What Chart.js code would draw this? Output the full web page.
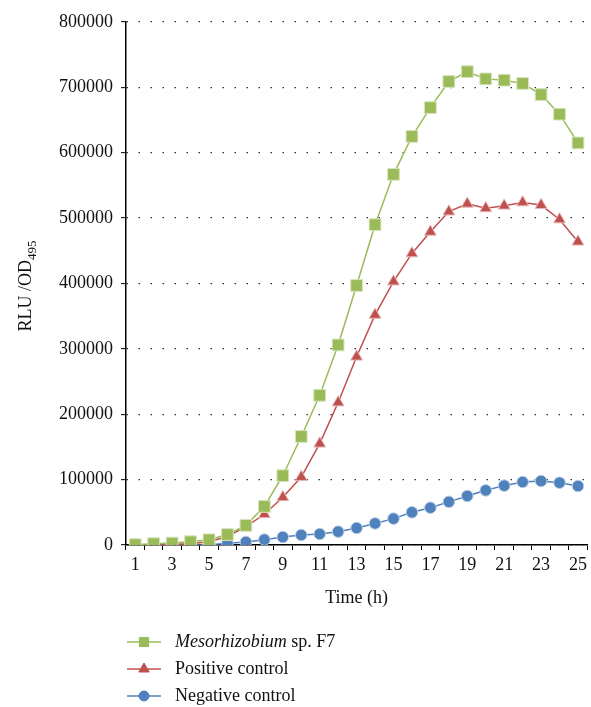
<!DOCTYPE html>
<html>
<head>
<meta charset="utf-8">
<title>RLU/OD495 over time</title>
<script src="https://cdn.jsdelivr.net/npm/chart.js@4/dist/chart.umd.min.js"></script>
<style>
  html, body { margin: 0; padding: 0; background: #fff; }
  #wrap { width: 591px; height: 707px; }
</style>
</head>
<body>
<div id="wrap"><canvas id="chart" width="591" height="707"></canvas></div>
<script>
// time points (h)
var hours = ['1','2','3','4','5','6','7','8','9','10','11','12','13','14','15','16','17','18','19','20','21','22','23','24','25'];

// RLU / OD495 per series
var mesorhizobium = [500, 2000, 3000, 5000, 8000, 16000, 30000, 59000, 106000, 166000, 229000, 306000, 397000,
                     490000, 567000, 625000, 669000, 709000, 724000, 713000, 711000, 706000, 689000, 659000, 615000];
var positiveCtrl = [0, 500, 1000, 2000, 5000, 13000, 28000, 47000, 73000, 104000, 155000, 218000, 288000,
                    352000, 403000, 446000, 479000, 510000, 522000, 515000, 519000, 524000, 520000, 498000, 464000];
var negativeCtrl = [0, 0, 0, 0, 500, 2500, 4600, 8200, 12200, 15300, 16800, 20400, 26000,
                    33000, 40300, 50000, 57000, 66000, 75000, 83600, 90800, 96400, 97900, 95300, 90200];

var yTicks = [0, 100000, 200000, 300000, 400000, 500000, 600000, 700000, 800000];

var FONT = '"Liberation Serif", "Times New Roman", serif';

var GREEN = '#9bbb59', RED = '#c0504d', BLUE = '#4f81bd';

// titles + legend are drawn here, because of the italic name and the subscript
var extraText = {
  id: 'extraText',
  afterDraw: function(chart) {
    var ctx = chart.ctx;
    var area = chart.chartArea;
    ctx.save();
    ctx.fillStyle = '#111';
    ctx.textBaseline = 'middle';

    // x title
    ctx.font = '18px ' + FONT;
    ctx.textAlign = 'center';
    ctx.fillText('Time (h)', (area.left + area.right) / 2, 598);

    // y title, rotated, with subscript
    ctx.save();
    ctx.translate(28, 286);
    ctx.rotate(-Math.PI / 2);
    ctx.textAlign = 'left';
    ctx.font = '18px ' + FONT;
    var main = 'RLU /OD';
    var wMain = ctx.measureText(main).width;
    ctx.font = '13px ' + FONT;
    var wSub = ctx.measureText('495').width;
    var x0 = -(wMain + wSub) / 2;
    ctx.font = '18px ' + FONT;
    ctx.fillText(main, x0, -2);
    ctx.font = '13px ' + FONT;
    ctx.fillText('495', x0 + wMain, 5);
    ctx.restore();

    // legend
    var rows = [
      { color: GREEN, style: 'rect', radius: 6.5, italic: 'Mesorhizobium', text: ' sp. F7', y: 642 },
      { color: RED, style: 'triangle', radius: 6, italic: '', text: 'Positive control', y: 669 },
      { color: BLUE, style: 'circle', radius: 5, italic: '', text: 'Negative control', y: 696 }
    ];
    rows.forEach(function(r) {
      ctx.strokeStyle = r.color;
      ctx.lineWidth = 1.5;
      ctx.beginPath();
      ctx.moveTo(127, r.y);
      ctx.lineTo(161, r.y);
      ctx.stroke();
      ctx.fillStyle = r.color;
      ctx.strokeStyle = r.color;
      ctx.lineWidth = 1;
      Chart.helpers.drawPoint(ctx, { pointStyle: r.style, radius: r.radius, borderWidth: 1 }, 144, r.y);
      ctx.fillStyle = '#111';
      ctx.textAlign = 'left';
      var x = 175;
      if (r.italic) {
        ctx.font = 'italic 18px ' + FONT;
        ctx.fillText(r.italic, x, r.y);
        x += ctx.measureText(r.italic).width;
      }
      ctx.font = '18px ' + FONT;
      ctx.fillText(r.text, x, r.y);
    });
    ctx.restore();
  }
};

function series(label, data, color, light, style, radius) {
  return {
    label: label,
    data: data,
    borderColor: color,
    backgroundColor: color,
    borderWidth: 1.5,
    pointStyle: style,
    pointRadius: radius,
    pointHoverRadius: radius,
    pointBackgroundColor: color,
    pointBorderColor: light,
    pointBorderWidth: 1,
    tension: 0,
    fill: false
  };
}

new Chart(document.getElementById('chart'), {
  type: 'line',
  data: {
    labels: hours,
    datasets: [
      series('Mesorhizobium sp. F7', mesorhizobium, GREEN, '#d7e4bd', 'rect', 8.3),
      series('Positive control', positiveCtrl, RED, '#e6b9b8', 'triangle', 6.8),
      series('Negative control', negativeCtrl, BLUE, '#b9cde5', 'circle', 5.8)
    ]
  },
  options: {
    responsive: false,
    animation: false,
    devicePixelRatio: 1,
    layout: { autoPadding: false, padding: { top: 22, right: 1, left: 0, bottom: 0 } },
    plugins: {
      legend: { display: false },
      tooltip: { enabled: false }
    },
    scales: {
      x: {
        type: 'category',
        offset: true,
        afterFit: function(scale) { scale.height = 162; },
        border: { display: true, color: '#000', width: 1.5 },
        grid: {
          offset: true,
          drawOnChartArea: false,
          drawTicks: true,
          tickLength: 5,
          tickColor: '#000',
          tickWidth: 1
        },
        ticks: {
          autoSkip: false,
          maxRotation: 0,
          padding: 4,
          color: '#111',
          font: { family: FONT, size: 18 },
          callback: function(val, i) { return i % 2 === 0 ? this.getLabelForValue(val) : ''; }
        }
      },
      y: {
        min: 0,
        max: 800000,
        afterFit: function(scale) { scale.width = 126; },
        afterBuildTicks: function(scale) {
          scale.ticks = yTicks.map(function(v) { return { value: v }; });
        },
        border: { display: true, color: '#000', width: 1.5, dash: [1.5, 10.5] },
        grid: {
          color: '#333',
          lineWidth: 1.3,
          drawTicks: true,
          tickLength: 5,
          tickColor: '#000',
          tickWidth: 1,
          tickBorderDash: []
        },
        ticks: {
          padding: 8,
          color: '#111',
          font: { family: FONT, size: 18 },
          callback: function(v) { return String(v); }
        }
      }
    }
  },
  plugins: [extraText]
});
</script>
</body>
</html>
